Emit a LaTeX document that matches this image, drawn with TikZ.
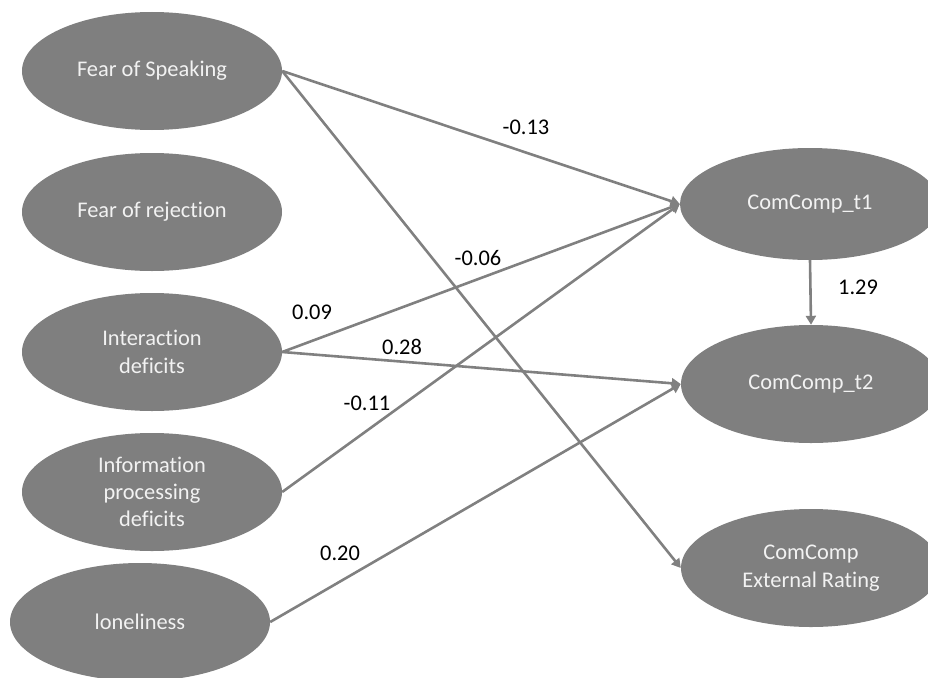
\documentclass[tikz,border=0pt]{standalone}
\usepackage{fontspec}
\setmainfont{Carlito}[Ligatures=NoCommon]
\usetikzlibrary{shapes.geometric,arrows.meta}
\definecolor{ovalgray}{HTML}{7F7F7F}
\definecolor{linegray}{HTML}{808080}
\definecolor{ovaltext}{HTML}{F2F2F2}
\begin{document}
\begin{tikzpicture}[x=1pt,y=-1pt,
  latent/.style={ellipse, fill=ovalgray, draw=none, text=ovaltext, align=center,
    minimum width=260pt, minimum height=118pt, inner sep=0pt,
    font=\fontsize{22.4}{27.3}\selectfont},
  path/.style={draw=linegray, line width=2.6pt, -{Triangle[width=10pt,length=9pt]}},
  coef/.style={text=black, inner sep=0pt, font=\fontsize{22.4}{27.3}\selectfont}]
\useasboundingbox (0,0) rectangle (928,677);
\clip (0,0) rectangle (928,677);
% left ellipses
\node[latent] (fos) at (152,71) {Fear of Speaking};
\node[latent] (for) at (152,212) {Fear of rejection};
\node[latent] (int) at (152,352) {Interaction\\deficits};
\node[latent] (inf) at (152,492) {Information\\processing\\deficits};
\node[latent] (lon) at (140,622) {loneliness};
% right ellipses
\node[latent, minimum height=112pt] (t1) at (810,204) {ComComp\_t1};
\node[latent] (t2) at (811,384) {ComComp\_t2};
\node[latent] (ext) at (811,568) {ComComp\\External Rating};
% paths
\draw[path] (fos.east) -- (t1.west);
\draw[path] (fos.east) -- (ext.west);
\draw[path] (int.east) -- (t1.west);
\draw[path] (int.east) -- (t2.west);
\draw[path] (inf.east) -- (t1.west);
\draw[path] (lon.east) -- (t2.west);
\draw[path] (t1.south) -- (t2.north);
% coefficients
\node[coef] (c1) at (526,127) {-0.13};
\node[coef] (c2) at (478,258) {-0.06};
\node[coef] (c3) at (312,312) {0.09};
\node[coef] (c4) at (402,347) {0.28};
\node[coef] (c5) at (367,403) {-0.11};
\node[coef] (c6) at (340,553) {0.20};
\node[coef] (c7) at (858,287) {1.29};
\end{tikzpicture}
\end{document}
